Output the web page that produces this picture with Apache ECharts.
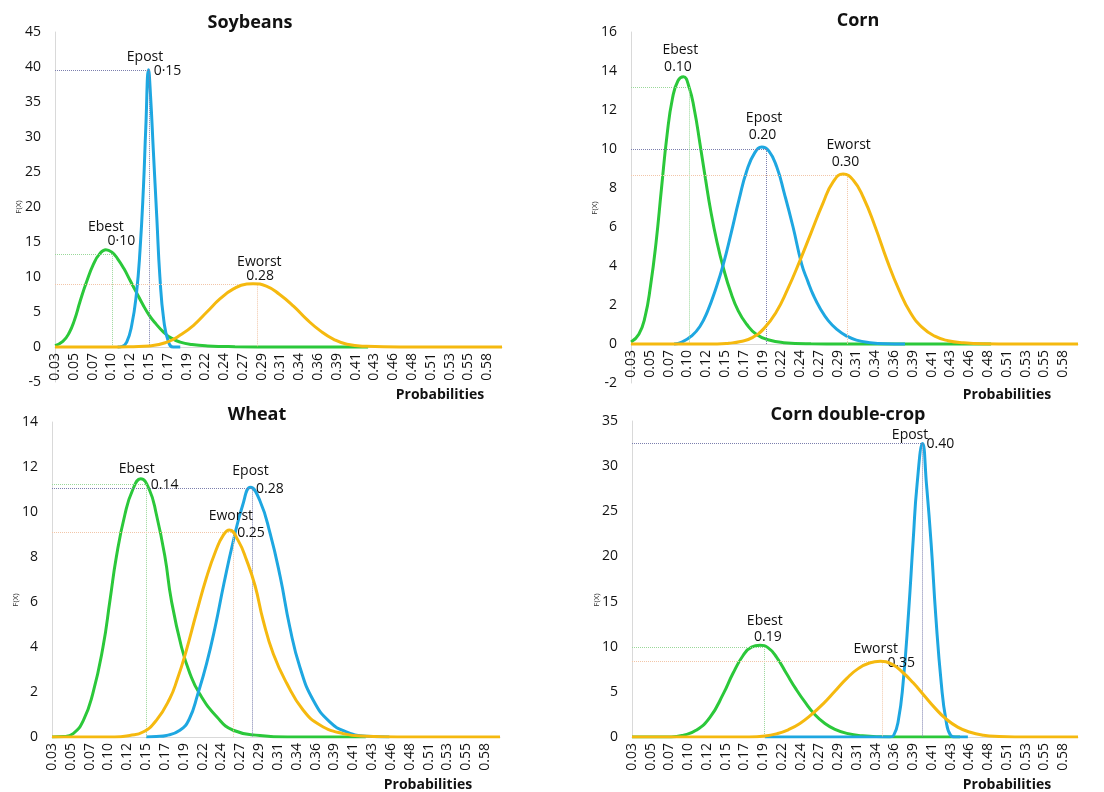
<!DOCTYPE html>
<html>
<head>
<meta charset="utf-8">
<script src="https://cdn.jsdelivr.net/npm/echarts/dist/echarts.min.js"></script>
<style>
  html, body { margin: 0; padding: 0; background: #fff; }
  #main { width: 1104px; height: 792px; }
</style>
</head>
<body>
<div id="main"></div>
<script>
// x axis tick labels (one every 0.024)
const tickLabels = ['0.03', '0.05', '0.07', '0.10', '0.12', '0.15', '0.17', '0.19', '0.22', '0.24', '0.27', '0.29',
  '0.31', '0.34', '0.36', '0.39', '0.41', '0.43', '0.46', '0.48', '0.51', '0.53', '0.55', '0.58']
const tickStart = 0.03
const tickStep = 0.024

// Soybeans
const soyBest = [[0.030, 0.2], [0.040, 0.8], [0.048, 2.0], [0.055, 3.9], [0.062, 6.5], [0.070, 9.2], [0.079, 11.8], [0.087, 13.3],
  [0.095, 13.9], [0.103, 13.5], [0.110, 12.6], [0.118, 11.2], [0.126, 9.5], [0.134, 7.8], [0.142, 6.1], [0.150, 4.6], [0.159, 3.3],
  [0.168, 2.2], [0.178, 1.3], [0.190, 0.7], [0.205, 0.35], [0.225, 0.15], [0.260, 0.05], [0.320, 0.01], [0.430, 0]]
const soyPost = [[0.110, 0], [0.116, 0.1], [0.1216, 0.7], [0.128, 3.1], [0.134, 7.6], [0.1386, 13.8], [0.143, 22.9], [0.146, 31.4],
  [0.1495, 39.6], [0.152, 36.0], [0.1556, 28.1], [0.160, 18.6], [0.164, 10.0], [0.169, 3.8], [0.175, 0.7], [0.181, 0], [0.190, 0]]
const soyWorst = [[0.030, 0], [0.100, 0], [0.130, 0.05], [0.151, 0.14], [0.173, 0.7], [0.190, 1.7], [0.207, 3.1], [0.224, 5.0],
  [0.241, 6.9], [0.258, 8.3], [0.275, 9.0], [0.283, 9.05], [0.300, 8.7], [0.317, 7.5], [0.335, 5.8], [0.352, 3.9], [0.369, 2.3],
  [0.386, 1.1], [0.403, 0.4], [0.428, 0.1], [0.471, 0], [0.601, 0]]
const soyGuideX = [0.103, 0.1505, 0.288] // best, post, worst
const soyGuideY = [13.3, 39.6, 8.9]

// Corn
const cornBest = [[0.030, 0.1], [0.040, 0.5], [0.048, 1.4], [0.055, 3.0], [0.062, 5.2], [0.069, 8.0], [0.076, 10.7], [0.083, 12.6],
  [0.090, 13.5], [0.097, 13.7], [0.104, 13.2], [0.111, 12.0], [0.118, 10.3], [0.125, 8.5], [0.132, 6.8], [0.140, 5.2], [0.148, 3.9],
  [0.157, 2.7], [0.167, 1.7], [0.178, 1.0], [0.190, 0.5], [0.205, 0.22], [0.225, 0.07], [0.260, 0.01], [0.300, 0], [0.490, 0]]
const cornPost = [[0.085, 0], [0.095, 0.1], [0.107, 0.4], [0.118, 0.9], [0.128, 1.7], [0.138, 2.8], [0.148, 4.1], [0.158, 5.7],
  [0.168, 7.4], [0.178, 8.9], [0.188, 9.8], [0.197, 10.1], [0.206, 9.9], [0.216, 9.1], [0.226, 7.7], [0.237, 6.0], [0.248, 4.1],
  [0.256, 3.2], [0.263, 2.5], [0.272, 1.8], [0.282, 1.2], [0.293, 0.75], [0.305, 0.42], [0.318, 0.2], [0.335, 0.07], [0.355, 0.01],
  [0.380, 0]]
const cornWorst = [[0.030, 0], [0.140, 0], [0.155, 0.04], [0.170, 0.13], [0.185, 0.33], [0.200, 0.8], [0.215, 1.6], [0.230, 2.8],
  [0.245, 4.2], [0.260, 5.7], [0.275, 7.2], [0.288, 8.3], [0.301, 8.72], [0.314, 8.4], [0.327, 7.5], [0.342, 6.0], [0.357, 4.3],
  [0.372, 2.8], [0.387, 1.6], [0.402, 0.85], [0.418, 0.4], [0.435, 0.17], [0.455, 0.06], [0.480, 0.01], [0.520, 0], [0.601, 0]]
const cornGuideX = [0.105, 0.203, 0.306]
const cornGuideY = [13.16, 10.0, 8.67]

// Wheat
const wheatBest = [[0.030, 0], [0.045, 0.02], [0.057, 0.15], [0.070, 0.74], [0.082, 1.93], [0.095, 4.0], [0.104, 6.1], [0.112, 8.0],
  [0.123, 9.9], [0.133, 11.0], [0.143, 11.48], [0.154, 11.0], [0.163, 9.9], [0.174, 8.0], [0.182, 6.1], [0.195, 4.0], [0.206, 2.8],
  [0.218, 1.93], [0.240, 0.9], [0.261, 0.3], [0.295, 0.07], [0.330, 0], [0.430, 0]]
const wheatPost = [[0.150, 0], [0.163, 0.02], [0.176, 0.07], [0.193, 0.3], [0.205, 0.8], [0.216, 1.93], [0.227, 3.26], [0.238, 4.9],
  [0.249, 6.8], [0.261, 8.7], [0.273, 10.3], [0.283, 11.1], [0.295, 10.5], [0.308, 9.05], [0.321, 7.1], [0.333, 4.9], [0.346, 3.1],
  [0.363, 1.63], [0.384, 0.67], [0.406, 0.22], [0.431, 0.03], [0.460, 0]]
const wheatWorst = [[0.030, 0], [0.110, 0], [0.129, 0.07], [0.146, 0.22], [0.163, 0.74], [0.180, 1.7], [0.190, 2.6], [0.200, 3.7],
  [0.214, 5.5], [0.227, 7.1], [0.239, 8.3], [0.248, 8.95], [0.256, 9.2], [0.267, 8.75], [0.278, 7.86], [0.289, 6.7], [0.299, 5.2],
  [0.312, 3.7], [0.329, 2.4], [0.350, 1.2], [0.372, 0.52], [0.401, 0.15], [0.431, 0.03], [0.470, 0], [0.601, 0]]
const wheatGuideX = [0.150, 0.285, 0.261]
const wheatGuideY = [11.25, 11.05, 9.12]

// Corn double-crop
const dcBest = [[0.030, 0], [0.080, 0], [0.095, 0.18], [0.112, 0.74], [0.130, 2.2], [0.147, 4.8], [0.159, 7.0], [0.172, 9.0],
  [0.183, 9.96], [0.194, 10.15], [0.204, 9.9], [0.215, 8.86], [0.228, 7.0], [0.240, 5.3], [0.252, 3.8], [0.264, 2.5], [0.277, 1.5],
  [0.290, 0.85], [0.305, 0.4], [0.325, 0.13], [0.350, 0.03], [0.380, 0], [0.450, 0]]
const dcPost = [[0.200, 0], [0.360, 0], [0.365, 0.18], [0.371, 1.85], [0.377, 5.9], [0.384, 13.7], [0.390, 21.8], [0.395, 28.0],
  [0.402, 32.5], [0.407, 28.0], [0.413, 21.4], [0.419, 13.3], [0.426, 5.9], [0.432, 1.85], [0.438, 0.18], [0.444, 0], [0.460, 0]]
const dcWorst = [[0.030, 0], [0.180, 0], [0.200, 0.1], [0.215, 0.35], [0.230, 0.8], [0.245, 1.5], [0.260, 2.5], [0.275, 3.7],
  [0.290, 5.1], [0.305, 6.5], [0.320, 7.6], [0.334, 8.2], [0.348, 8.38], [0.362, 8.1], [0.376, 7.2], [0.390, 6.0], [0.404, 4.6],
  [0.418, 3.2], [0.432, 2.0], [0.447, 1.1], [0.462, 0.55], [0.480, 0.2], [0.500, 0.05], [0.520, 0], [0.601, 0]]
const dcGuideX = [0.199, 0.402, 0.351]
const dcGuideY = [9.96, 32.5, 8.38]

// peak labels: [text, x, y, align], in order best, post, worst
const soyNotes = [[['Ebest', 0.095, 17.1, 'center'], ['0·10', 0.097, 15.1, 'left']],
  [['Epost', 0.145, 41.4, 'center'], ['0·15', 0.156, 39.4, 'left']],
  [['Eworst', 0.291, 12.1, 'center'], ['0.28', 0.292, 10.2, 'center']]]
const cornNotes = [[['Ebest', 0.093, 15.1, 'center'], ['0.10', 0.090, 14.2, 'center']],
  [['Epost', 0.200, 11.6, 'center'], ['0.20', 0.198, 10.7, 'center']],
  [['Eworst', 0.308, 10.2, 'center'], ['0.30', 0.304, 9.35, 'center']]]
const wheatNotes = [[['Ebest', 0.138, 11.9, 'center'], ['0.14', 0.156, 11.2, 'left']],
  [['Epost', 0.283, 11.84, 'center'], ['0.28', 0.290, 11.0, 'left']],
  [['Eworst', 0.258, 9.8, 'center'], ['0.25', 0.266, 9.08, 'left']]]
const dcNotes = [[['Ebest', 0.200, 12.8, 'center'], ['0.19', 0.204, 11.1, 'center']],
  [['Epost', 0.386, 33.5, 'center'], ['0.40', 0.407, 32.4, 'left']],
  [['Eworst', 0.342, 9.8, 'center'], ['0.35', 0.357, 8.2, 'left']]]

const font = '"Open Sans", "DejaVu Sans", sans-serif'
const lineColors = ['#2bc83a', '#1ea7e1', '#f5b90f']
const guideColors = ['#9ad89a', '#7c7fae', '#f2c6a8']

const panels = [
  { title: 'Soybeans', cx: 250, ty: 23, px: 440, py: 395, fx: 19, fy: 207,
    grid: { left: 55, top: 32, width: 447, height: 350 }, y: [-5, 45, 5],
    curves: [soyBest, soyPost, soyWorst], gx: soyGuideX, gy: soyGuideY, notes: soyNotes },
  { title: 'Corn', cx: 858, ty: 21, px: 1007, py: 395, fx: 595, fy: 208,
    grid: { left: 631, top: 32, width: 447, height: 351 }, y: [-2, 16, 2],
    curves: [cornBest, cornPost, cornWorst], gx: cornGuideX, gy: cornGuideY, notes: cornNotes },
  { title: 'Wheat', cx: 257, ty: 415, px: 428, py: 785, fx: 16, fy: 600,
    grid: { left: 52, top: 422, width: 448, height: 315 }, y: [0, 14, 2],
    curves: [wheatBest, wheatPost, wheatWorst], gx: wheatGuideX, gy: wheatGuideY, notes: wheatNotes },
  { title: 'Corn double-crop', cx: 848, ty: 415, px: 1007, py: 785, fx: 597, fy: 600,
    grid: { left: 632, top: 421, width: 446, height: 316 }, y: [0, 35, 5],
    curves: [dcBest, dcPost, dcWorst], gx: dcGuideX, gy: dcGuideY, notes: dcNotes }
]

const tickValues = tickLabels.map((t, i) => +(tickStart + i * tickStep).toFixed(3))

let grid = [], xAxis = [], yAxis = [], series = [], graphic = []

panels.forEach((p, k) => {
  grid.push(p.grid)
  // the category axis sits on y = 0, not on the grid bottom
  const zeroOffset = p.grid.height * (0 - p.y[0]) / (p.y[1] - p.y[0])
  xAxis.push({
    type: 'value', gridIndex: k, min: 0.03, max: 0.601,
    offset: -zeroOffset,
    axisLine: { onZero: false, lineStyle: { color: '#d9d9d9' } },
    axisTick: { show: false },
    splitLine: { show: false },
    axisLabel: {
      customValues: tickValues, rotate: 90, margin: 6,
      fontSize: 14, fontFamily: font, color: '#111',
      formatter: v => tickLabels[Math.round((v - tickStart) / tickStep)]
    }
  })
  yAxis.push({
    type: 'value', gridIndex: k, min: p.y[0], max: p.y[1], interval: p.y[2],
    axisLine: { show: true, lineStyle: { color: '#d9d9d9' } },
    axisTick: { show: false },
    splitLine: { show: false },
    axisLabel: { margin: 14, fontSize: 14, fontFamily: font, color: '#111' }
  })

  // blue drawn first, then green, then orange on top
  ;[1, 0, 2].forEach(j => {
    const gx = p.gx[j], gy = p.gy[j]
    series.push({
      type: 'line', xAxisIndex: k, yAxisIndex: k,
      data: p.curves[j],
      smooth: 0.5, showSymbol: false, silent: true,
      lineStyle: { color: lineColors[j], width: 3 },
      z: 3 + j,
      markLine: {
        silent: true, symbol: ['none', 'none'],
        label: { show: false },
        lineStyle: { type: 'dotted', width: 1, color: guideColors[j] },
        data: [
          [{ coord: [0.03, gy] }, { coord: [gx, gy] }],
          [{ coord: [gx, gy] }, { coord: [gx, 0] }]
        ]
      },
      markPoint: {
        silent: true, symbol: 'circle', symbolSize: 0,
        data: p.notes[j].map(n => ({
          coord: [n[1], n[2]],
          label: {
            show: true, position: 'inside', formatter: n[0], align: n[3], verticalAlign: 'middle',
            color: '#111', fontSize: 14, fontFamily: font
          }
        }))
      }
    })
  })

  graphic.push({
    type: 'text', x: p.cx, y: p.ty,
    style: { text: p.title, font: 'bold 18px ' + font, fill: '#111', textAlign: 'center', textVerticalAlign: 'middle' }
  })
  graphic.push({
    type: 'text', x: p.px, y: p.py,
    style: { text: 'Probabilities', font: 'bold 14px ' + font, fill: '#111', textAlign: 'center', textVerticalAlign: 'middle' }
  })
  graphic.push({
    type: 'text', x: p.fx, y: p.fy, rotation: Math.PI / 2,
    style: { text: 'F(X)', font: '8px ' + font, fill: '#333', textAlign: 'center', textVerticalAlign: 'middle' }
  })
})

const myChart = echarts.init(document.getElementById('main'))
myChart.setOption({
  animation: false,
  grid: grid,
  xAxis: xAxis,
  yAxis: yAxis,
  series: series,
  graphic: graphic
})
</script>
</body>
</html>
